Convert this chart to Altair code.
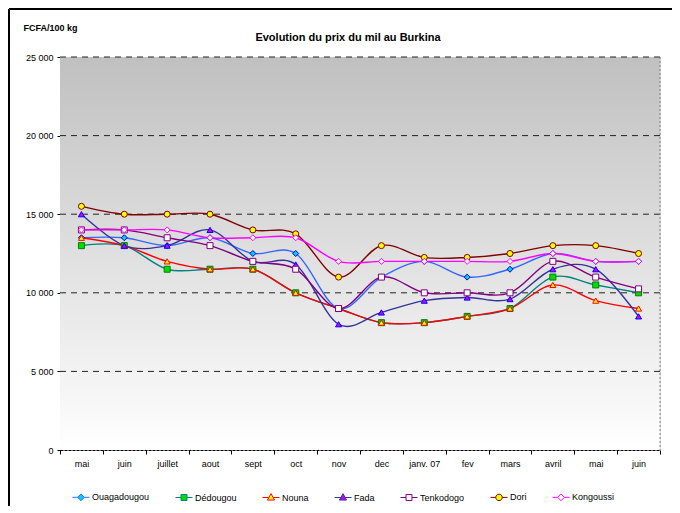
import altair as alt
import pandas as pd

months = ["mai", "juin", "juillet", "aout", "sept", "oct", "nov", "dec",
          "janv. 07", "fev", "mars", "avril", "mai", "juin"]

series_names = ["Ouagadougou", "Dédougou", "Nouna", "Fada", "Tenkodogo", "Dori", "Kongoussi"]

ouagadougou = [13500, 13500, 13000, 13500, 12500, 12500, 9000, 11000, 12000, 11000, 11500, 12500, 12000, 12000]
dedougou = [13000, 13000, 11500, 11500, 11500, 10000, 9000, 8100, 8100, 8500, 9000, 11000, 10500, 10000]
nouna = [13500, 13000, 12000, 11500, 11500, 10000, 9000, 8100, 8100, 8500, 9000, 10500, 9500, 9000]
fada = [15000, 13000, 13000, 14000, 12000, 11800, 8000, 8750, 9500, 9700, 9600, 11500, 11500, 8500]
tenkodogo = [14000, 14000, 13500, 13000, 12000, 11500, 9000, 11000, 10000, 10000, 10000, 12000, 11000, 10250]
dori = [15500, 15000, 15000, 15000, 14000, 13750, 11000, 13000, 12250, 12250, 12500, 13000, 13000, 12500]
kongoussi = [14000, 14000, 14000, 13500, 13500, 13500, 12000, 12000, 12000, 12000, 12000, 12500, 12000, 12000]

all_values = [ouagadougou, dedougou, nouna, fada, tenkodogo, dori, kongoussi]

y_ticks = [0, 5000, 10000, 15000, 20000, 25000]
grid_values = [5000, 10000, 15000, 20000, 25000]

line_colors = ["#3366FF", "#008080", "#FF0000", "#333399", "#800080", "#800000", "#FF00FF"]
marker_fill = ["#00CCFF", "#00DD00", "#FFFF00", "#CC00FF", "#FFFFFF", "#FFFF00", "#FFFFFF"]
marker_stroke = ["#0000CC", "#008000", "#FF0000", "#0000FF", "#800080", "#800000", "#FF00FF"]
marker_shapes = ["diamond", "square", "triangle-up", "triangle-up", "square", "circle", "diamond"]

legend_paths = [
    "M-1,0L-0.4,0M0.4,0L1,0M0,-0.4L0.4,0L0,0.4L-0.4,0Z",
    "M-1,0L-0.35,0M0.35,0L1,0M-0.35,-0.35L0.35,-0.35L0.35,0.35L-0.35,0.35Z",
    "M-1,0L-0.25,0M0.25,0L1,0M0,-0.45L0.42,0.3L-0.42,0.3Z",
    "M-1,0L-0.25,0M0.25,0L1,0M0,-0.45L0.42,0.3L-0.42,0.3Z",
    "M-1,0L-0.35,0M0.35,0L1,0M-0.35,-0.35L0.35,-0.35L0.35,0.35L-0.35,0.35Z",
    "M-1,0L-0.38,0M0.38,0L1,0M0.38,0A0.38,0.38,0,1,1,-0.38,0A0.38,0.38,0,1,1,0.38,0Z",
    "M-1,0L-0.4,0M0.4,0L1,0M0,-0.4L0.4,0L0,0.4L-0.4,0Z",
]

rows = []
for name, vals in zip(series_names, all_values):
    for i, v in enumerate(vals):
        rows.append({"series": name, "idx": i, "value": v})
df = pd.DataFrame(rows)
grid_df = pd.DataFrame({"value": grid_values})

FONT = "Liberation Sans"
W, H = 600, 393

label_expr = "[" + ",".join("'" + m + "'" for m in months) + "][datum.value]"


def lookup_expr(keys, vals):
    return "{" + ",".join("'" + k + "':'" + v + "'" for k, v in zip(keys, vals)) + "}[datum.value]"


x_enc = alt.X("idx:O",
              scale=alt.Scale(type="band", paddingInner=0, paddingOuter=0),
              axis=alt.Axis(title=None, labelExpr=label_expr, labelAngle=0,
                            tickBand="extent", tickSize=4, tickColor="black",
                            domainColor="black", domainDash=[3, 1], grid=False,
                            labelFont=FONT, labelFontSize=9, labelColor="black",
                            labelPadding=5))
y_scale = alt.Scale(domain=[0, 25000], nice=False, zero=True)
y_axis = alt.Axis(title="FCFA/100 kg", titleAngle=0, titleX=-37, titleY=-27,
                  titleAlign="left", titleBaseline="alphabetic",
                  titleFont=FONT, titleFontSize=9, titleFontWeight="bold",
                  titleColor="black", values=y_ticks,
                  labelExpr="replace(format(datum.value, ','), ',', ' ')",
                  labelFont=FONT, labelFontSize=9, labelColor="black",
                  labelPadding=4, tickSize=3, tickColor="black",
                  domainColor="black", grid=False)
y_enc = alt.Y("value:Q", scale=y_scale, axis=y_axis)

one = alt.Data(values=[{}])

background = alt.Chart(one).mark_rect(
    color=alt.LinearGradient(gradient="linear", x1=0, y1=0, x2=0, y2=1,
                             stops=[alt.GradientStop(offset=0, color="#C0C0C0"),
                                    alt.GradientStop(offset=1, color="#FFFFFF")])
).encode(x=alt.value(0), x2=alt.value(W), y=alt.value(0), y2=alt.value(H))

grid = alt.Chart(grid_df).mark_rule(color="#222222", strokeDash=[6, 5], strokeWidth=1).encode(
    y=y_enc
)

right_border = alt.Chart(one).mark_rule(color="#808080", strokeDash=[2, 2], strokeWidth=1).encode(
    x=alt.value(W), y=alt.value(0), y2=alt.value(H)
)

leg = alt.Legend(
    title=None, orient="none", legendX=12, legendY=431, direction="horizontal",
    columns=7, columnPadding=23, symbolSize=289, symbolStrokeWidth=1, symbolOpacity=1,
    symbolType=alt.ExprRef(expr=lookup_expr(series_names, legend_paths)),
    symbolFillColor=alt.ExprRef(expr=lookup_expr(series_names, marker_fill)),
    symbolStrokeColor=alt.ExprRef(expr=lookup_expr(series_names, line_colors)),
    labelOffset=2, labelFont=FONT, labelFontSize=9, labelColor="black", padding=0,
)

lines = alt.Chart(df).mark_line(interpolate="cardinal", strokeWidth=1.4).encode(
    x=x_enc, y=y_enc,
    color=alt.Color("series:N", scale=alt.Scale(domain=series_names, range=line_colors), legend=leg),
)

point_layers = []
for name, shp, fc, sc in zip(series_names, marker_shapes, marker_fill, marker_stroke):
    point_layers.append(
        alt.Chart(df).transform_filter(alt.datum.series == name).mark_point(
            shape=shp, fill=fc, stroke=sc, filled=False, size=36, strokeWidth=1, opacity=1
        ).encode(x=x_enc, y=y_enc)
    )

frame_top = alt.Chart(one).mark_rule(color="black", strokeWidth=2).encode(
    x=alt.value(-51), x2=alt.value(640), y=alt.value(-48)
)
frame_left = alt.Chart(one).mark_rule(color="black", strokeWidth=2).encode(
    x=alt.value(-51), y=alt.value(-48), y2=alt.value(480)
)

title = alt.Chart(one).mark_text(
    text="Evolution du prix du mil au Burkina", font=FONT,
    fontSize=11, fontWeight="bold", color="black", align="center", baseline="alphabetic"
).encode(x=alt.value(288), y=alt.value(-16))

chart = alt.layer(background, grid, right_border, lines, *point_layers,
                  frame_top, frame_left, title).properties(
    width=W, height=H,
    autosize=alt.AutoSizeParams(type="none"),
    padding={"left": 52, "top": 49, "right": 12, "bottom": 56},
).configure_view(stroke=None).configure(background="white")

chart.save("out.html", embed_options={"renderer": "svg", "actions": False})
